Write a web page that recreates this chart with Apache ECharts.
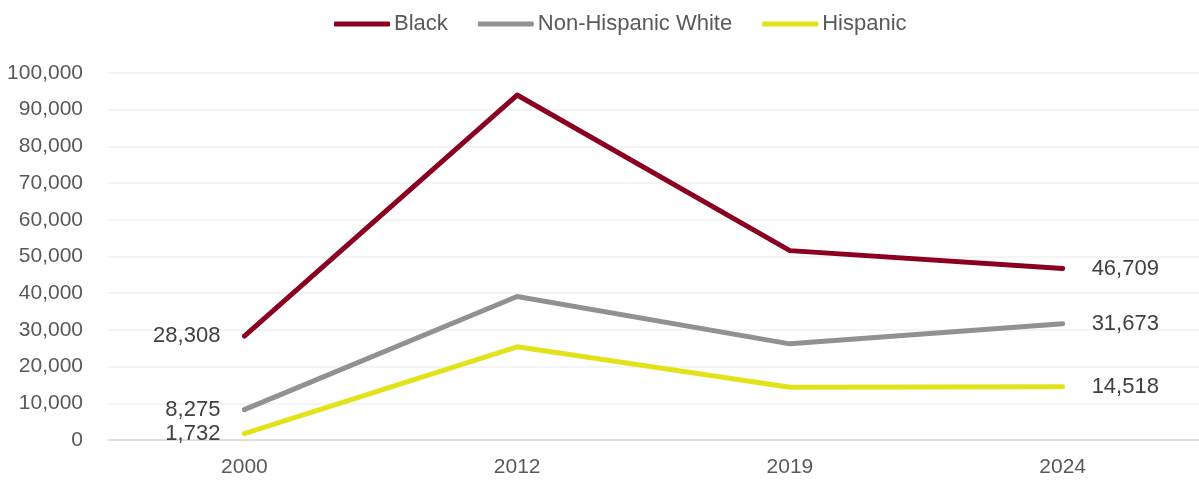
<!DOCTYPE html>
<html><head><meta charset="utf-8">
<script src="https://cdn.jsdelivr.net/npm/echarts@6/dist/echarts.min.js"></script>
<style>html,body{margin:0;padding:0;background:#fff}#c{width:1199px;height:480px}</style>
</head><body><div id="c"></div>
<script>
const categories = ['2000', '2012', '2019', '2024'];
const black = [28308, 94000, 51600, 46709];
const white = [8275, 39100, 26200, 31673];
const hispanic = [1732, 25400, 14400, 14518];
const seriesNames = ['Black', 'Non-Hispanic White', 'Hispanic'];
const colors = ['#8B0020', '#919191', '#E2E21A'];

const font = 'Liberation Sans, Arial, sans-serif';
function mk(name, vals, color) {
  return {
    name: name, type: 'line', data: vals.map((v, i) => {
      const d = { value: v };
      if (i === 0) d.label = { show: true, position: 'left', distance: 22 };
      else if (i === vals.length - 1) d.label = { show: true, position: 'right', distance: 27 };
      return d;
    }),
    symbol: 'circle', symbolSize: 4, showSymbol: true,
    itemStyle: { color: color },
    lineStyle: { color: color, width: 5, cap: 'round', join: 'round' },
    label: { show: false, fontSize: 22, color: '#404040', fontFamily: font,
      formatter: p => p.value.toLocaleString('en-US') },
    animation: false
  };
}
const chart = echarts.init(document.getElementById('c'));
chart.setOption({
  animation: false,
  legend: {
    top: 8, left: 329, itemWidth: 56, itemHeight: 5, itemGap: 30,
    icon: 'roundRect',
    textStyle: { fontSize: 22, color: '#595959', fontFamily: font, padding: [0, 0, 0, -1] },
    data: seriesNames
  },
  grid: { left: 108, right: 0, top: 73, bottom: 40 },
  xAxis: {
    type: 'category', data: categories, boundaryGap: true,
    axisLine: { lineStyle: { color: '#d9d9d9', width: 1.5 } },
    axisTick: { show: false },
    axisLabel: { fontSize: 21, color: '#595959', fontFamily: font, margin: 17 }
  },
  yAxis: {
    type: 'value', min: 0, max: 100000, interval: 10000,
    axisLine: { show: false }, axisTick: { show: false },
    splitLine: { lineStyle: { color: '#f0f0f0', width: 1.5 } },
    axisLabel: { fontSize: 21, color: '#595959', fontFamily: font, margin: 25,
      formatter: v => v.toLocaleString('en-US') }
  },
  series: [
    mk(seriesNames[0], black, colors[0]),
    mk(seriesNames[1], white, colors[1]),
    mk(seriesNames[2], hispanic, colors[2])
  ]
});
</script></body></html>
